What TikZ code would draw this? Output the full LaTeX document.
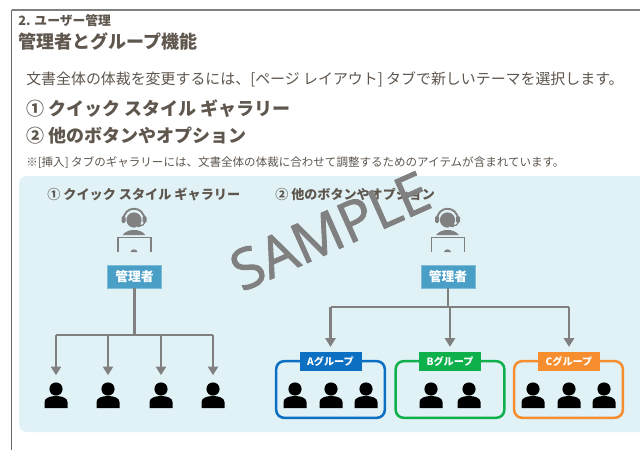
\documentclass[tikz,border=0pt]{standalone}
\usepackage{fontspec}
\setmainfont{Noto Sans CJK JP}
\newfontfamily\wm[RawFeature={embolden=1.6}]{Open Sans}
\usetikzlibrary{arrows.meta,calc}
\definecolor{ink}{HTML}{5F564E}
\definecolor{wire}{HTML}{808080}
\definecolor{panel}{HTML}{E1F2F7}
\definecolor{adm}{HTML}{4A9FC6}
\definecolor{ga}{HTML}{0B6FC2}
\definecolor{gb}{HTML}{0DB04B}
\definecolor{gc}{HTML}{F68E2F}
\newcommand{\fs}[1]{\fontsize{#1}{#1}\selectfont}
\tikzset{
 x=0.75pt,y=-0.75pt,
 txt/.style={anchor=west,inner sep=0pt,text=ink,font=#1},
 admbox/.style={fill=adm,draw=adm!70!white,line width=0.4pt,text=white,minimum width=40.5pt,minimum height=17.25pt,inner sep=0pt,font=\fs{9.6pt}\bfseries},
 wireline/.style={draw=wire,line width=1.8pt},
 arr/.style={wireline,-{Triangle[width=7.5pt,length=6.5pt]}},
 personbox/.style={minimum width=17.25pt,minimum height=24pt,inner sep=0pt},
 grpbox/.style={draw=#1,line width=1.9pt,rounded corners=6pt,minimum width=81.5pt,minimum height=42.5pt,inner sep=0pt},
 grplabel/.style={fill=#1,text=white,minimum width=46.5pt,minimum height=14pt,inner sep=0pt,font=\fs{7.6pt}\bfseries},
 person/.pic={
  \fill[black] (0,-13) circle (6.6);
  \fill[black] (-11.5,6) -- (-11.5,0) .. controls (-11.5,-4) and (-6,-6) .. (0,-6) .. controls (6,-6) and (11.5,-4) .. (11.5,0) -- (11.5,6) -- cycle;
 },
 operator/.pic={
  \fill[wire] (0,-12) circle (7.6);
  \draw[wire,line width=1.4pt] (-10.5,-12) .. controls (-10.5,-27) and (10.5,-27) .. (10.5,-12);
  \fill[wire,rounded corners=1pt] (-12.5,-16) rectangle (-8.5,-9);
  \fill[wire,rounded corners=1pt] (8.5,-16) rectangle (12.5,-9);
  \draw[panel,line width=1.5pt] (10,-9) .. controls (9.5,-5.5) and (7,-5) .. (2,-5);
  \draw[wire,line width=0.9pt] (10.5,-9) .. controls (10,-6.5) and (8,-6.5) .. (5,-6.5);
  \fill[wire] (4.5,-6.5) ellipse (3 and 1.6);
  \fill[wire] (-11.5,3) .. controls (-8,-1) and (-4,-2) .. (0,-2) .. controls (4,-2) and (8,-1) .. (11.5,3) -- cycle;
  \draw[wire,line width=1.4pt] (-16,20) -- (-16,5.5) -- (17,5.5) -- (17,20);
  \fill[wire] (-3.5,20) .. controls (-3,16.5) and (3,16.5) .. (3.5,20) -- cycle;
 }
}
\begin{document}
\begin{tikzpicture}
\useasboundingbox (0,0) rectangle (640,450);
\fill[white] (0,0) rectangle (640,450);
% page frame
\draw[wire,line width=1.5pt] (640,10) -- (11.5,10);
\draw[wire!80!black,line width=1pt] (11.5,10) -- (11.5,450);
% panel
\fill[panel] (640,176) -- (27,176) arc[start angle=90,end angle=180,x radius=8,y radius=-8] -- (19,424) arc[start angle=180,end angle=270,x radius=8,y radius=-8] -- (640,432) -- cycle;
% texts
\node[txt=\fs{9.6pt}\bfseries] (sec) at (18,20.5) {2. ユーザー管理};
\node[txt=\fs{13.5pt}\bfseries] (ttl) at (18,41) {管理者とグループ機能};
\node[txt=\fs{11.2pt}] (body) at (26,79) {文書全体の体裁を変更するには、[ページ レイアウト] タブで新しいテーマを選択します。};
\node[txt=\fs{13.5pt}\bfseries] (h1) at (26,108.5) {① クイック スタイル ギャラリー};
\node[txt=\fs{13.5pt}\bfseries] (h2) at (26,135.5) {② 他のボタンやオプション};
\node[txt=\fs{8.65pt}] (note) at (26,163) {※[挿入] タブのギャラリーには、文書全体の体裁に合わせて調整するためのアイテムが含まれています。};
\node[txt=\fs{9.85pt}\bfseries] (c1) at (47,194.5) {① クイック スタイル ギャラリー};
\node[txt=\fs{9.8pt}\bfseries] (c2) at (275,194.5) {② 他のボタンやオプション};
% operators
\pic at (134,232) {operator};
\pic at (447.5,232) {operator};
% admin boxes
\node[admbox] (admA) at (134.5,276.5) {管理者};
\node[admbox] (admB) at (448,276.5) {管理者};
% left tree
\node[personbox] (p1) at (56,391.5) {};
\node[personbox] (p2) at (108,391.5) {};
\node[personbox] (p3) at (161,391.5) {};
\node[personbox] (p4) at (213,391.5) {};
\coordinate (busA) at (134.5,335);
\draw[wireline] (admA.south) -- (admA.south |- busA);
\draw[wireline] (p1.north |- busA) -- (p4.north |- busA);
\foreach \n in {p1,p2,p3,p4}{ \draw[arr] (\n.north |- busA) -- (\n.north); }
% groups
\node[grpbox=ga] (gA) at (330.5,389.5) {};
\node[grpbox=gb] (gB) at (450,389.5) {};
\node[grpbox=gc] (gC) at (568.5,389.5) {};
\node[grplabel=ga] (lA) at (330.5,361.5) {Aグループ};
\node[grplabel=gb] (lB) at (450,361.5) {Bグループ};
\node[grplabel=gc] (lC) at (569,361.5) {Cグループ};
\coordinate (busB) at (448,307);
\draw[wireline] (admB.south) -- (admB.south |- busB);
\draw[wireline] (lA.north |- busB) -- (lC.north |- busB);
\foreach \n in {lA,lB,lC}{ \draw[arr,shorten >=3.75pt] (\n.north |- busB) -- (\n.north); }
% people
\foreach \x in {56,108,161,213,295,331,366,431,469,533,569,604}{ \pic at (\x,402) {person}; }
% watermark
\node[rotate=24,text=wire!50!gray,inner sep=0pt,font=\wm\fs{42pt}] (wm) at (330,231) {SAMPLE};
\end{tikzpicture}
\end{document}
